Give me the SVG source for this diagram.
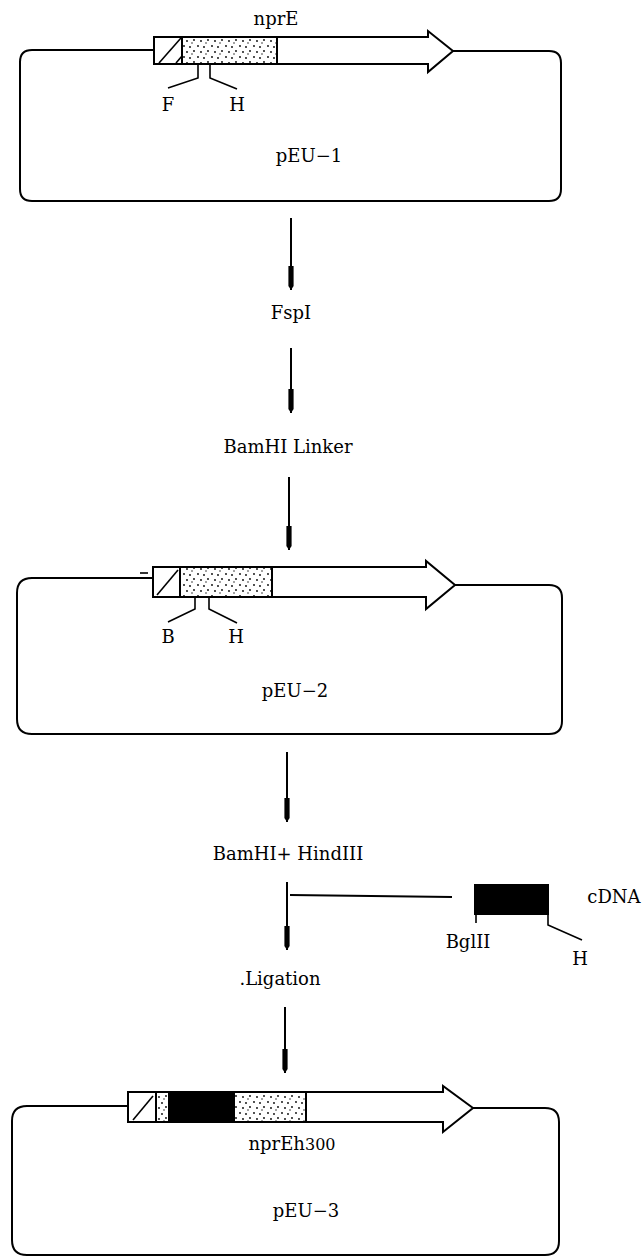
<svg xmlns="http://www.w3.org/2000/svg" width="643" height="1260" viewBox="0 0 643 1260">
<style>
.ol{fill:none;stroke:#000;stroke-width:2;stroke-linejoin:round}
.bx{fill:#fff;stroke:#000;stroke-width:2}
.dot{fill:url(#stip);stroke:#000;stroke-width:2}
.blk{fill:#000;stroke:#000;stroke-width:2}
.thin{fill:none;stroke:#000;stroke-width:1.6}
.cn{fill:none;stroke:#000;stroke-width:2}
.t{font-family:"DejaVu Serif","Liberation Serif",serif;font-size:18px;fill:#000;text-anchor:middle}
</style>
<defs>
<pattern id="stip" width="14" height="11" patternUnits="userSpaceOnUse">
<rect width="14" height="11" fill="#fff"/>
<circle cx="2" cy="2" r="0.9" fill="#000"/>
<circle cx="8" cy="3" r="0.9" fill="#000"/>
<circle cx="12" cy="7" r="0.9" fill="#000"/>
<circle cx="5" cy="8" r="0.9" fill="#000"/>
<circle cx="10" cy="10" r="0.7" fill="#000"/>
</pattern>
<marker id="ah" viewBox="0 -3 24 6" refX="24" refY="0" markerWidth="24" markerHeight="6" markerUnits="userSpaceOnUse" orient="auto">
<path d="M0,-2.6 L20,-2.6 L24,0 L20,2.6 L0,2.6 Z" fill="#000"/>
</marker>
</defs>

<g id="plasmid-pEU-1">
<path class="ol" d="M154,50 H32 Q20,50 20,62 V189 Q20,201 32,201 H549 Q561,201 561,189 V63 Q561,51 549,51 H453"/>
<polygon class="bx" points="154,37 428,37 428,31 453,51 428,72 428,64 154,64"/>
<rect class="dot" x="182" y="37" width="95" height="27"/>
<rect class="bx" x="154" y="37" width="28" height="27"/>
<line class="thin" x1="159" y1="63" x2="181" y2="38"/>
<line class="thin" x1="176" y1="63" x2="182" y2="56"/>
<polyline class="thin" points="198,64 198,78 168,88"/>
<polyline class="thin" points="210,64 210,78 237,89"/>
<text class="t" x="276" y="25">nprE</text>
<text class="t" x="168" y="111">F</text>
<text class="t" x="237" y="111">H</text>
<text class="t" x="309" y="162">pEU−1</text>
</g>

<g id="step-FspI">
<text class="t" x="291" y="319">FspI</text>
</g>

<g id="step-BamHI-linker">
<text class="t" x="288" y="453">BamHI Linker</text>
</g>

<g id="plasmid-pEU-2">
<path class="ol" d="M153,578 H32 Q17,578 17,593 V719 Q17,734 32,734 H549 Q562,734 562,721 V598 Q562,585 549,585 H455"/>
<polygon class="bx" points="153,567 426,567 426,561 455,585 426,609 426,597 153,597"/>
<rect class="dot" x="180" y="567" width="92" height="30"/>
<rect class="bx" x="153" y="567" width="27" height="30"/>
<line class="thin" x1="157" y1="595" x2="178" y2="570"/>
<line class="thin" x1="140" y1="573" x2="148" y2="573"/>
<polyline class="thin" points="195,597 195,609 168,622"/>
<polyline class="thin" points="209,597 209,609 237,623"/>
<text class="t" x="168" y="643">B</text>
<text class="t" x="236" y="643">H</text>
<text class="t" x="295" y="697">pEU−2</text>
</g>

<g id="step-BamHI-HindIII">
<text class="t" x="288" y="860">BamHI+ HindIII</text>
</g>

<g id="cdna">
<rect class="blk" x="475" y="885" width="73" height="29"/>
<line class="thin" x1="476" y1="914" x2="476" y2="923"/>
<polyline class="thin" points="548,914 548,925 582,940"/>
<text class="t" x="614" y="903">cDNA</text>
<text class="t" x="468" y="948">BglII</text>
<text class="t" x="580" y="965">H</text>
</g>

<g id="step-ligation">
<text class="t" x="280" y="985">.Ligation</text>
</g>

<g id="plasmid-pEU-3">
<path class="ol" d="M128,1106 H27 Q12,1106 12,1121 V1240 Q12,1255 27,1255 H545 Q559,1255 559,1241 V1122 Q559,1108 545,1108 H473"/>
<polygon class="bx" points="128,1092 443,1092 443,1086 473,1108 443,1132 443,1122 128,1122"/>
<rect class="dot" x="156" y="1092" width="13" height="30"/>
<rect class="blk" x="169" y="1092" width="65" height="30"/>
<rect class="dot" x="234" y="1092" width="72" height="30"/>
<rect class="bx" x="128" y="1092" width="28" height="30"/>
<line class="thin" x1="133" y1="1120" x2="153" y2="1096"/>
<text class="t" x="292" y="1150">nprEh<tspan font-size="16">300</tspan></text>
<text class="t" x="306" y="1217">pEU−3</text>
</g>

<g id="connectors">
<line class="cn" x1="291" y1="218" x2="291" y2="290" marker-end="url(#ah)"/>
<line class="cn" x1="291" y1="348" x2="291" y2="413" marker-end="url(#ah)"/>
<line class="cn" x1="289" y1="477" x2="289" y2="550" marker-end="url(#ah)"/>
<line class="cn" x1="287" y1="752" x2="287" y2="822" marker-end="url(#ah)"/>
<line class="cn" x1="287" y1="882" x2="287" y2="950" marker-end="url(#ah)"/>
<line class="cn" x1="290" y1="895" x2="452" y2="897"/>
<line class="cn" x1="285" y1="1007" x2="285" y2="1073" marker-end="url(#ah)"/>
</g>
</svg>
